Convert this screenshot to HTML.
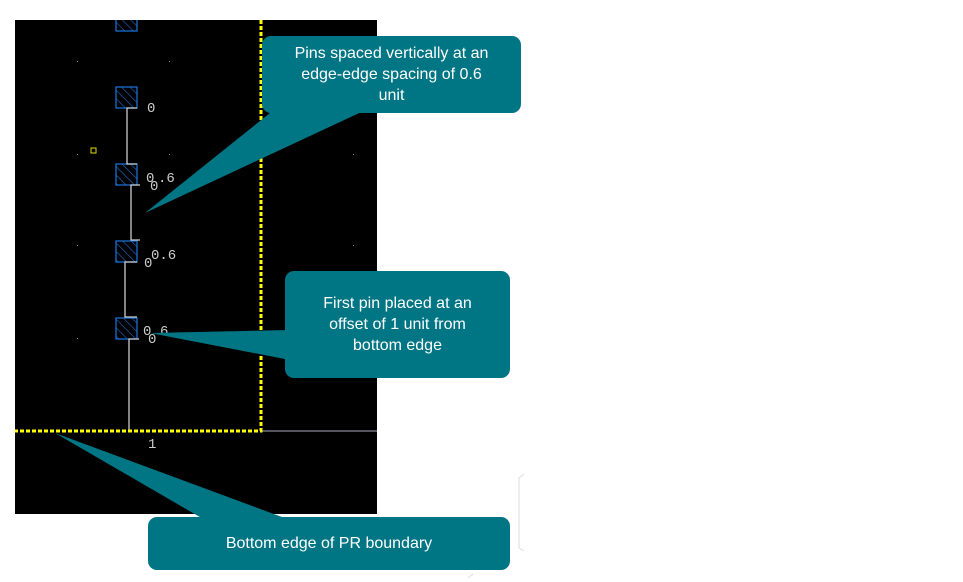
<!DOCTYPE html>
<html><head><style>
body{margin:0;width:963px;height:582px;background:#fff;overflow:hidden;position:relative;font-family:"Liberation Sans",sans-serif}
.co{position:absolute;background:#007584;border-radius:9px;color:#fff;font-size:16px;text-align:center;line-height:21px;display:flex;align-items:center;justify-content:center}
</style></head><body>
<svg width="963" height="582" style="position:absolute;left:0;top:0">
<defs><pattern id="h" width="6" height="6" patternUnits="userSpaceOnUse" patternTransform="rotate(-45)"><line x1="0" y1="0" x2="0" y2="6" stroke="#1a6fd0" stroke-width="1.2"/></pattern>
<clipPath id="c"><rect x="15" y="20" width="362" height="494"/></clipPath></defs>
<rect x="15" y="20" width="362" height="494" fill="#000"/>
<g fill="#888"><rect x="77" y="61" width="1" height="1"/><rect x="169" y="61" width="1" height="1"/><rect x="77" y="154" width="1" height="1"/><rect x="169" y="154" width="1" height="1"/><rect x="77" y="245" width="1" height="1"/><rect x="77" y="338" width="1" height="1"/><rect x="353" y="154" width="1" height="1"/><rect x="353" y="245" width="1" height="1"/><rect x="353" y="338" width="1" height="1"/></g>
<rect x="91" y="148" width="5" height="5" fill="none" stroke="#dd0" stroke-width="1"/>
<g fill="url(#h)" stroke="#1a6fd0" stroke-width="1.3" clip-path="url(#c)">
<rect x="116" y="10" width="21" height="21"/><rect x="116" y="87" width="21" height="21"/><rect x="116" y="164" width="21" height="21"/><rect x="116" y="241" width="21" height="21"/><rect x="116" y="318" width="21" height="21"/>
</g>
<g stroke="#ccc" stroke-width="1.3" fill="none">
<polyline points="137,108 127,108 127,164 137,164"/>
<polyline points="140,185 131,185 131,240 140,240"/>
<polyline points="137,262 125,262 125,317 137,317"/>
<polyline points="139,339 129,339 129,431"/>
</g>
<g fill="#ccc" font-family="Liberation Mono,monospace" font-size="14">
<text x="147" y="112">0</text>
<text x="146" y="182">0</text><text x="150" y="190">0</text><text x="158" y="182">.6</text>
<text x="144" y="267">0</text><text x="151" y="259">0.6</text>
<text x="143" y="335">0</text><text x="148" y="343">0</text><text x="160" y="335">6</text>
<text x="148" y="448">1</text>
</g>
<line x1="261" y1="431" x2="377" y2="431" stroke="#889" stroke-width="1.3"/>
<path d="M261 20 V431 H15" fill="none" stroke="#ff0" stroke-width="3" stroke-dasharray="4 2"/>
<polygon points="145,213 280,105 370,108" fill="#007584"/>
<polygon points="150,333 290,330 290,360" fill="#007584"/>
<polygon points="55,433 205,520 290,520" fill="#007584"/>
<g stroke="#ddd" fill="none"><path d="M519 478 V548 M519 478 l5 -4 M519 548 l5 3 M468 578 l5 -4"/></g>
</svg>
<div class="co" style="left:262px;top:36px;width:259px;height:77px">Pins spaced vertically at an<br>edge-edge spacing of 0.6<br>unit</div>
<div class="co" style="left:285px;top:271px;width:225px;height:107px">First pin placed at an<br>offset of 1 unit from<br>bottom edge</div>
<div class="co" style="left:148px;top:517px;width:362px;height:53px">Bottom edge of PR boundary</div>
</body></html>
